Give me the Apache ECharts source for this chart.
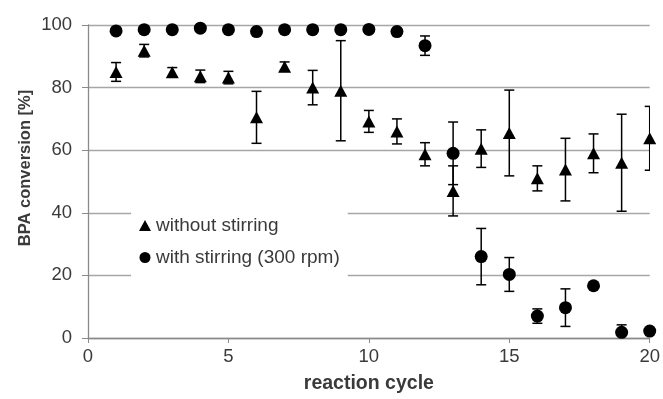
<!DOCTYPE html>
<html>
<head>
<meta charset="utf-8">
<script src="https://cdn.jsdelivr.net/npm/echarts@6/dist/echarts.min.js"></script>
<style>
html,body{margin:0;padding:0;background:#fff;}
#chart{width:663px;height:399px;}
</style>
</head>
<body>
<div id="chart"></div>
<script>
var cycles = [1,2,3,4,5,6,7,8,9,10,11,12,13,14,15,16,17,18,19,20];
var withoutStirring = [85,91.8,84.9,83.6,83.2,70.5,86.7,80,79,69.2,66,58.7,47,60.5,65.5,51,53.8,59,56,63.8];
var withoutStirringErr = [3,2,1.5,2,2,8.3,1.5,5.5,16,3.5,4,3.7,8,6,13.7,4,10,6.2,15.5,10.2];
var withStirring = [98.1,98.5,98.5,99,98.5,97.9,98.5,98.5,98.5,98.6,97.9,93.4,59,26,20.3,7,9.7,16.7,1.8,2.2];
var withStirringErr = [0,0,0,0,0,0,0,0,0,0,0,3.1,10,9,5.4,2.3,6,0,2.4,0];
var yTicks = [0,20,40,60,80,100];
var xTicks = [0,5,10,15,20];
var seriesNames = ['without stirring','with stirring (300 rpm)'];

var FONT = 'Liberation Sans, Arial, sans-serif';
var TXT = '#3a3a3a';

function pts(vals){ return cycles.map(function(c,i){ return [c, vals[i]]; }); }
function errs(vals, e){ return cycles.map(function(c,i){ return [c, vals[i], e[i]]; }).filter(function(d){ return d[2] > 0; }); }

function errRender(params, api){
  var x = api.value(0), y = api.value(1), e = api.value(2);
  var top = api.coord([x, y + e]);
  var bot = api.coord([x, y - e]);
  var hw = 5;
  var st = {stroke:'#000', lineWidth:1.5};
  return {type:'group', children:[
    {type:'line', shape:{x1:top[0],y1:top[1],x2:bot[0],y2:bot[1]}, style:st},
    {type:'line', shape:{x1:top[0]-hw,y1:top[1],x2:top[0]+hw,y2:top[1]}, style:st},
    {type:'line', shape:{x1:bot[0]-hw,y1:bot[1],x2:bot[0]+hw,y2:bot[1]}, style:st}
  ]};
}

var chart = echarts.init(document.getElementById('chart'), null, {renderer:'canvas'});
chart.setOption({
  animation:false,
  backgroundColor:'#fff',
  grid:{left:88, right:11, top:25, bottom:61},
  xAxis:{
    type:'value', min:0, max:20, interval:5,
    name:'reaction cycle', nameLocation:'middle', nameGap:36,
    nameTextStyle:{fontFamily:FONT, fontWeight:'bold', fontSize:19.5, color:TXT},
    axisLine:{lineStyle:{color:'#8a8a8a', width:1.3}},
    axisTick:{show:true, length:5, lineStyle:{color:'#8a8a8a'}},
    axisLabel:{fontFamily:FONT, fontSize:18.5, color:TXT, margin:9},
    splitLine:{show:false}
  },
  yAxis:{
    type:'value', min:0, max:100, interval:20,
    axisLine:{show:true, lineStyle:{color:'#8a8a8a', width:1.3}},
    axisTick:{show:true, length:6, lineStyle:{color:'#8a8a8a'}},
    axisLabel:{fontFamily:FONT, fontSize:18.5, color:TXT, margin:16},
    splitLine:{show:true, lineStyle:{color:'#a6a6a6', width:1.3}}
  },
  graphic:[{
    type:'text', x:25, y:168, rotation:Math.PI/2,
    style:{text:'BPA conversion [%]', fontFamily:FONT, fontWeight:'bold', fontSize:16.5, fill:TXT, align:'center', verticalAlign:'middle'}
  }],
  legend:{
    orient:'vertical', left:131, top:204,
    padding:[12,8,12,8], itemGap:13, itemWidth:12, itemHeight:11,
    backgroundColor:'#fff',
    textStyle:{fontFamily:FONT, fontSize:19, color:TXT},
    data:[{name:seriesNames[0], icon:'triangle'},{name:seriesNames[1], icon:'circle'}]
  },
  series:[
    {type:'custom', name:'errA', renderItem:errRender, data:errs(withoutStirring, withoutStirringErr), clip:true, z:2, silent:true},
    {type:'custom', name:'errB', renderItem:errRender, data:errs(withStirring, withStirringErr), clip:true, z:2, silent:true},
    {type:'scatter', name:seriesNames[0], data:pts(withoutStirring), symbol:'triangle', symbolSize:[13,12], itemStyle:{color:'#000', opacity:1}, z:3},
    {type:'scatter', name:seriesNames[1], data:pts(withStirring), symbol:'circle', symbolSize:13, itemStyle:{color:'#000', opacity:1}, z:3}
  ]
});
</script>
</body>
</html>
